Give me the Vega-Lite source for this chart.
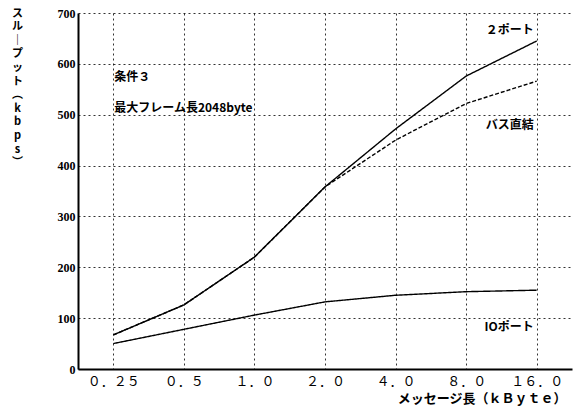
{
  "$schema": "https://vega.github.io/schema/vega-lite/v6.json",
  "width": 494,
  "height": 356,
  "autosize": {"type": "none"},
  "padding": {"left": 78, "top": 13, "right": 6, "bottom": 40},
  "background": "white",
  "config": {"view": {"stroke": null}, "font": "Noto Sans CJK JP"},
  "datasets": {
    "series": [
      {"size": "０．２５", "series": "２ポート", "kbps": 67},
      {"size": "０．５", "series": "２ポート", "kbps": 126},
      {"size": "１．０", "series": "２ポート", "kbps": 220},
      {"size": "２．０", "series": "２ポート", "kbps": 358},
      {"size": "４．０", "series": "２ポート", "kbps": 472},
      {"size": "８．０", "series": "２ポート", "kbps": 576},
      {"size": "１６．０", "series": "２ポート", "kbps": 645},
      {"size": "０．２５", "series": "バス直結", "kbps": 67},
      {"size": "０．５", "series": "バス直結", "kbps": 126},
      {"size": "１．０", "series": "バス直結", "kbps": 220},
      {"size": "２．０", "series": "バス直結", "kbps": 358},
      {"size": "４．０", "series": "バス直結", "kbps": 450},
      {"size": "８．０", "series": "バス直結", "kbps": 522},
      {"size": "１６．０", "series": "バス直結", "kbps": 566},
      {"size": "０．２５", "series": "IOポート", "kbps": 50},
      {"size": "０．５", "series": "IOポート", "kbps": 78},
      {"size": "１．０", "series": "IOポート", "kbps": 106},
      {"size": "２．０", "series": "IOポート", "kbps": 132},
      {"size": "４．０", "series": "IOポート", "kbps": 145},
      {"size": "８．０", "series": "IOポート", "kbps": 152},
      {"size": "１６．０", "series": "IOポート", "kbps": 155}
    ],
    "notesLeft": [
      {"size": "０．２５", "kbps": 574, "label": "条件３"},
      {"size": "０．２５", "kbps": 513, "label": "最大フレーム長2048byte"}
    ],
    "notesRight": [
      {"size": "１６．０", "kbps": 667, "label": "２ポート"},
      {"size": "１６．０", "kbps": 480, "label": "バス直結"},
      {"size": "１６．０", "kbps": 83, "label": "IOポート"}
    ]
  },
  "encoding": {
    "x": {
      "field": "size",
      "type": "ordinal",
      "sort": ["０．２５", "０．５", "１．０", "２．０", "４．０", "８．０", "１６．０"],
      "scale": {"type": "point", "padding": 0.5, "domain": ["０．２５", "０．５", "１．０", "２．０", "４．０", "８．０", "１６．０"]},
      "axis": {
        "grid": true,
        "gridDash": [2, 3],
        "gridColor": "black",
        "gridOpacity": 0.8,
        "gridWidth": 1,
        "domainColor": "black",
        "domainWidth": 2,
        "ticks": false,
        "labelAngle": 0,
        "labelFontSize": 13,
        "labelColor": "black",
        "labelPadding": 6,
        "title": "メッセージ長（ｋＢｙｔｅ）",
        "titleFontSize": 13,
        "titleFontWeight": "bold",
        "titleColor": "black",
        "titleAngle": 0,
        "titleAlign": "right",
        "titleBaseline": "middle",
        "titleX": 488,
        "titleY": 29
      }
    },
    "y": {
      "field": "kbps",
      "type": "quantitative",
      "scale": {"domain": [0, 700]},
      "axis": {
        "values": [0, 100, 200, 300, 400, 500, 600, 700],
        "grid": true,
        "gridDash": [2, 3],
        "gridColor": "black",
        "gridOpacity": 0.8,
        "gridWidth": 1,
        "domainColor": "black",
        "domainWidth": 2,
        "ticks": false,
        "labelFont": "Liberation Serif",
        "labelFontWeight": "bold",
        "labelFontSize": 12,
        "labelColor": "black",
        "labelPadding": 3,
        "title": ["ス", "ル", "｜", "プ", "ッ", "ト", "︵", "k", "b", "p", "s", "︶"],
        "titleFontSize": 11,
        "titleFontWeight": "bold",
        "titleColor": "black",
        "titleAngle": 0,
        "titleAlign": "center",
        "titleBaseline": "top",
        "titleLineHeight": 13.6,
        "titleX": -61,
        "titleY": -6
      }
    }
  },
  "layer": [
    {
      "data": {"name": "series"},
      "mark": {"type": "line", "color": "black", "strokeWidth": 1.4},
      "encoding": {
        "strokeDash": {
          "field": "series",
          "type": "nominal",
          "scale": {"domain": ["２ポート", "バス直結", "IOポート"], "range": [[1, 0], [4, 2], [1, 0]]},
          "legend": null
        }
      }
    },
    {
      "data": {"name": "notesLeft"},
      "mark": {"type": "text", "align": "left", "baseline": "middle", "fontSize": 12, "fontWeight": "bold", "color": "black", "dx": 1},
      "encoding": {"text": {"field": "label"}}
    },
    {
      "data": {"name": "notesRight"},
      "mark": {"type": "text", "align": "right", "baseline": "middle", "fontSize": 12, "fontWeight": "bold", "color": "black", "dx": -3},
      "encoding": {"text": {"field": "label"}}
    }
  ]
}
